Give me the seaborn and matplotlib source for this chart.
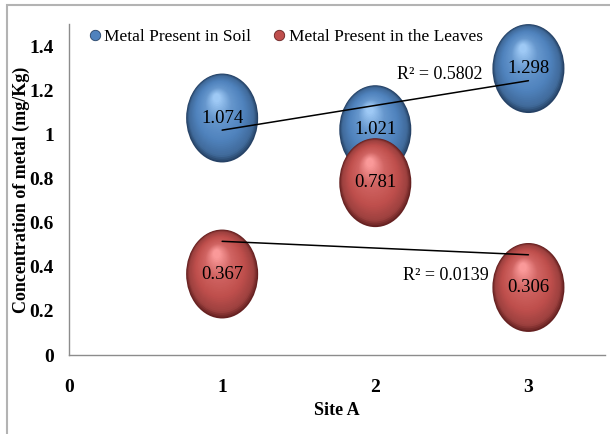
import numpy as np
import pandas as pd
import matplotlib
matplotlib.use("Agg")
import matplotlib.pyplot as plt
import seaborn as sns
from matplotlib.path import Path
from matplotlib.markers import MarkerStyle
from matplotlib.transforms import offset_copy
from matplotlib.lines import Line2D
from matplotlib.patches import Rectangle

# ---- data ----
sites = [1, 2, 3]
soil = [1.074, 1.021, 1.298]
leaves = [0.367, 0.781, 0.306]
series_names = ["Metal Present in Soil", "Metal Present in the Leaves"]
x_ticks = [0, 1, 2, 3]
y_ticks = [0, 0.2, 0.4, 0.6, 0.8, 1.0, 1.2, 1.4]
y_tick_labels = ["0", "0.2", "0.4", "0.6", "0.8", "1", "1.2", "1.4"]
x_label = "Site A"
y_label = "Concentration of metal (mg/Kg)"

sns.set_theme(style="white")
plt.rcParams["font.family"] = ["Liberation Serif", "DejaVu Serif"]

W, H = 610, 434
fig = plt.figure(figsize=(W / 100, H / 100), dpi=100)
ax = fig.add_axes([69 / W, 79 / H, 536 / W, 331 / H])

# ellipse marker (taller than wide)
circ = Path.unit_circle()
ell = MarkerStyle(Path(circ.vertices * np.array([0.81, 1.0]), circ.codes))
S = 4100.0  # marker area in pt^2 (height ~64pt)
half_h = np.sqrt(S) / 2

palettes = {
    series_names[0]: dict(dark=(0.15, 0.26, 0.40), base=(0.31, 0.51, 0.74),
                          light=(0.62, 0.79, 0.96)),
    series_names[1]: dict(dark=(0.40, 0.13, 0.13), base=(0.75, 0.31, 0.30),
                          light=(0.98, 0.60, 0.60)),
}


def grad_color(p, t):
    dark, base, light = (np.array(p[k]) for k in ("dark", "base", "light"))
    if t < 0.1:
        return dark + (base * 0.82 - dark) * (t / 0.1)
    if t < 0.35:
        return base * 0.82 + (base - base * 0.82) * ((t - 0.1) / 0.25)
    if t < 0.7:
        return base + 0.3 * (light - base) * ((t - 0.35) / 0.35)
    return base + (light - base) * (0.3 + 0.7 * (t - 0.7) / 0.3)


def draw_bubbles(xs, ys, name, z):
    p = palettes[name]
    n = 34
    for i in range(n):
        t = i / (n - 1)
        scale = 1 - 0.9 * t
        dx = -0.15 * half_h * 0.81 * t
        dy = 0.45 * half_h * t
        tr = offset_copy(ax.transData, fig=fig, x=dx, y=dy, units="points")
        sns.scatterplot(x=xs, y=ys, ax=ax, marker=ell, s=S * scale ** 2,
                        color=tuple(np.clip(grad_color(p, t), 0, 1)),
                        linewidth=0, edgecolor="none", zorder=z + i * 0.001,
                        transform=tr, legend=False)


draw_bubbles(sites, soil, series_names[0], 2)
draw_bubbles(sites, leaves, series_names[1], 3)

# trendlines
for vals in (soil, leaves):
    sns.regplot(x=sites, y=vals, ax=ax, scatter=False, ci=None, truncate=True,
                color="black", line_kws=dict(lw=1.1, zorder=6))

# value labels
for vals in (soil, leaves):
    for x, v in zip(sites, vals):
        ax.text(x, v, f"{v:.3f}", ha="center", va="center", fontsize=13.5,
                color="black", zorder=10)

# R^2 labels
r2_soil = np.corrcoef(sites, soil)[0, 1] ** 2
r2_leaves = np.corrcoef(sites, leaves)[0, 1] ** 2
ax.text(2.42, 1.27, f"R² = {r2_soil:.4f}", ha="center", va="center",
        fontsize=13, color="black", zorder=10)
ax.text(2.46, 0.36, f"R² = {r2_leaves:.4f}", ha="center", va="center",
        fontsize=13, color="black", zorder=10)

ax.set_xlim(0, 3.5)
ax.set_ylim(0, 1.5)
ax.set_xticks(x_ticks)
ax.set_xticklabels([str(v) for v in x_ticks])
ax.set_yticks(y_ticks)
ax.set_yticklabels(y_tick_labels)
for s in ("top", "right"):
    ax.spines[s].set_visible(False)
for s in ("left", "bottom"):
    ax.spines[s].set_color("#8c8c8c")
    ax.spines[s].set_linewidth(1.0)
ax.tick_params(axis="both", direction="out", length=5, width=1,
               color="#8c8c8c", labelsize=14, labelcolor="black")
ax.tick_params(axis="x", pad=12)
ax.tick_params(axis="y", pad=6)
for lbl in ax.get_xticklabels() + ax.get_yticklabels():
    lbl.set_fontweight("bold")

ax.set_xlabel(x_label, fontsize=13, fontweight="bold", color="black")
ax.set_ylabel(y_label, fontsize=13, fontweight="bold", color="black")
ax.xaxis.set_label_coords(0.5, -(402 - 355) / 331)
ax.yaxis.set_label_coords(-(69 - 30) / 536, 0.5)

# legend
handles = [
    Line2D([], [], marker="o", ls="", markersize=7.5,
           markerfacecolor=palettes[n]["base"],
           markeredgecolor=palettes[n]["dark"], markeredgewidth=0.6)
    for n in series_names
]
leg = fig.legend(handles, series_names, loc="center left",
                 bbox_to_anchor=(88 / W, 1 - 37 / H), ncol=2, frameon=False,
                 fontsize=12.5, handletextpad=0.15, columnspacing=1.2,
                 handlelength=0.8, borderpad=0, borderaxespad=0)
for txt in leg.get_texts():
    txt.set_color("black")

# outer figure border (only top and left visible)
fig.patches.append(Rectangle((7 / W, -0.05), 1.2, 1 - 5 / H + 0.05,
                             transform=fig.transFigure, fill=False,
                             edgecolor="#b3b3b3", lw=1.5, zorder=0))

fig.savefig("out.png", dpi=100)
